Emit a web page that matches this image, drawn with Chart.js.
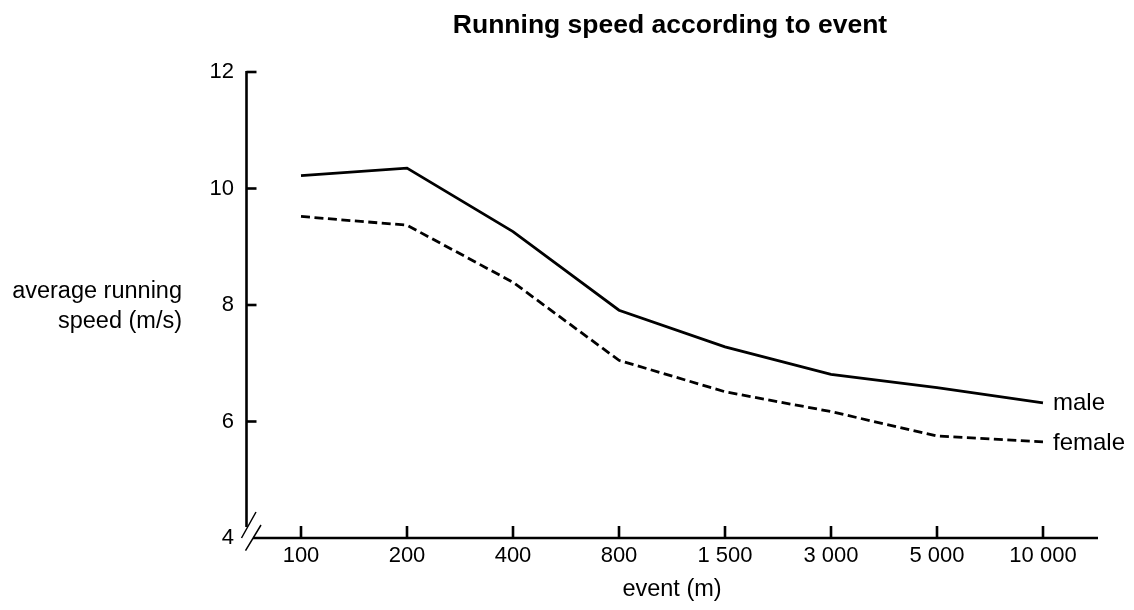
<!DOCTYPE html><html lang="en"><meta charset="utf-8">
<title>Running speed according to event</title>
<script src="https://cdn.jsdelivr.net/npm/chart.js@4.4.1"></script>

<style>
body{margin:0;background:#fff}
canvas{display:block}
</style>

<body>
<canvas id="chart" width="1134" height="610"></canvas>

<script>
// data
const events = ['100','200','400','800','1 500','3 000','5 000','10 000'];
const male   = [10.22,10.35,9.26,7.91,7.28,6.81,6.58,6.32];
const female = [9.52,9.37,8.39,7.05,6.51,6.17,5.75,5.65];
const seriesNames = ['male','female'];
const yTickValues = [6,8,10,12];          // inward tick marks (4 sits on the break)
const yTitle = ['average running','speed (m/s)'];
const xTitle = 'event (m)';
const chartTitle = 'Running speed according to event';

const FONT = '"Liberation Sans", Arial, sans-serif';
const INK  = '#000';

/* axes, inward ticks, axis break and direct labels are drawn by hand */
const decor = {
  id:'decor',
  afterDatasetsDraw(chart){
    const {ctx, chartArea:ca, scales:{x,y}} = chart;
    const ax = ca.left - 1.5, by = ca.bottom;
    ctx.save();
    ctx.strokeStyle = INK; ctx.lineWidth = 2.6; ctx.lineCap = 'butt';

    // y axis, stops short of the break
    ctx.beginPath();
    ctx.moveTo(ax, y.getPixelForValue(12) - 1);
    ctx.lineTo(ax, by - 11);
    ctx.stroke();
    yTickValues.forEach(v=>{
      const py = y.getPixelForValue(v);
      ctx.beginPath(); ctx.moveTo(ax, py); ctx.lineTo(ax + 10, py); ctx.stroke();
    });

    // x axis
    ctx.beginPath();
    ctx.moveTo(ax + 6.5, by); ctx.lineTo(ca.right + 2, by);
    ctx.stroke();
    events.forEach((_,i)=>{
      const px = x.getPixelForValue(i);
      ctx.beginPath(); ctx.moveTo(px, by); ctx.lineTo(px, by - 12); ctx.stroke();
    });

    // break marks
    ctx.lineWidth = 1.5;
    ctx.beginPath();
    ctx.moveTo(ax + 9.5, by - 26); ctx.lineTo(ax - 5, by);
    ctx.moveTo(ax + 14.5, by - 13); ctx.lineTo(ax - 1, by + 12.7);
    ctx.stroke();

    // series names at line ends
    ctx.fillStyle = INK;
    ctx.font = '24px ' + FONT;
    ctx.textAlign = 'left'; ctx.textBaseline = 'middle';
    chart.data.datasets.forEach((ds,i)=>{
      const pts = chart.getDatasetMeta(i).data;
      const p = pts[pts.length-1];
      ctx.fillText(seriesNames[i], p.x + 10, p.y + 1);
    });

    // horizontal y title
    ctx.font = '23.5px ' + FONT;
    ctx.textAlign = 'right';
    const yc = y.getPixelForValue(8);
    ctx.fillText(yTitle[0], ca.left - 66, yc - 13);
    ctx.fillText(yTitle[1], ca.left - 66, yc + 17);

    // chart title over the plot area
    ctx.font = 'bold 26.5px ' + FONT;
    ctx.textAlign = 'center';
    ctx.fillText(chartTitle, (ca.left + ca.right)/2 - 2, 26);
    ctx.restore();
  }
};

new Chart(document.getElementById('chart'),{
  type:'line',
  data:{labels:events,datasets:[
    {label:seriesNames[0],data:male,borderColor:INK,borderWidth:2.8,pointRadius:0,tension:0,fill:false},
    {label:seriesNames[1],data:female,borderColor:INK,borderWidth:2.8,borderDash:[9,4.5],pointRadius:0,tension:0,fill:false}
  ]},
  options:{
    animation:false,
    responsive:false,
    layout:{padding:{left:0,right:38,top:72,bottom:0}},
    plugins:{legend:{display:false},tooltip:{enabled:false},title:{display:false}},
    scales:{
      x:{
        offset:true,
        grid:{display:false,drawTicks:false},
        border:{display:false},
        ticks:{color:INK,font:{family:FONT,size:22},padding:5,maxRotation:0,autoSkip:false},
        title:{display:true,text:xTitle,color:INK,font:{family:FONT,size:23.5},padding:{top:0,bottom:6}},
        afterFit(s){ s.height = 72; }
      },
      y:{
        min:4,max:12,
        grid:{display:false,drawTicks:false},
        border:{display:false},
        ticks:{stepSize:2,color:INK,font:{family:FONT,size:22},padding:14},
        afterFit(s){ s.width = 248; }
      }
    }
  },
  plugins:[decor]
});
</script>
</body></html>
